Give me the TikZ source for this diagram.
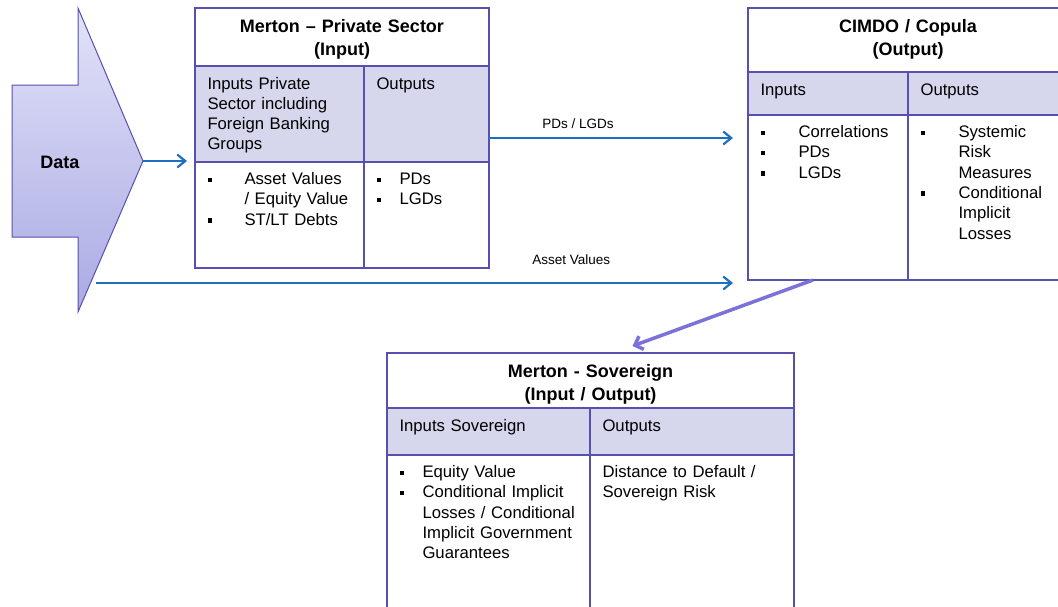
\documentclass[tikz,border=0pt]{standalone}
\usepackage{fontspec}
\setmainfont{Liberation Sans}
\usepackage{tikz}
\usetikzlibrary{positioning,fit,arrows.meta}
\definecolor{boxline}{RGB}{88,80,176}
\definecolor{rowfill}{RGB}{214,214,236}
\definecolor{flowblue}{RGB}{30,112,190}
\definecolor{linkpurple}{RGB}{122,114,214}
\definecolor{datatop}{RGB}{226,226,248}
\definecolor{databottom}{RGB}{170,170,228}
\newcommand{\bodyfont}{\fontsize{16.7}{20.3}\selectfont}
\newcommand{\titlefont}{\fontsize{18}{22.5}\selectfont\bfseries}
\newcommand{\labelfont}{\fontsize{13.5}{16}\selectfont}
\newcommand{\bul}[1]{\makebox[#1][l]{\rule[2.5pt]{4.5pt}{4.5pt}}}
\tikzstyle{header} = [rectangle, draw=boxline, line width=1.5pt, outer sep=0pt, inner xsep=12.5pt, inner ysep=0pt, align=center, font=\titlefont, text height=24.5pt]
\tikzstyle{shaded} = [rectangle, draw=boxline, fill=rowfill, line width=1.5pt, outer sep=0pt, inner xsep=12.5pt, inner ysep=0pt, align=left, font=\bodyfont, text height=23pt]
\tikzstyle{body} = [rectangle, draw=boxline, line width=1.5pt, outer sep=0pt, inner xsep=12.5pt, inner ysep=0pt, align=left, font=\bodyfont, text height=22.5pt]
\tikzstyle{flow} = [draw=flowblue, line width=2.2pt, -{Straight Barb[length=8pt,width=13pt]}]
\tikzstyle{link} = [draw=linkpurple, line width=3.5pt, -{Straight Barb[length=7pt,width=14pt]}]
\tikzstyle{flowlabel} = [font=\labelfont, anchor=base]

\begin{document}
\begin{tikzpicture}[x=1pt, y=-1pt]
        \useasboundingbox (0,0) rectangle (1058,606);
        \clip (0,0) rectangle (1058,606);
        \shade[top color=datatop, bottom color=databottom, draw=boxline, line width=1pt] (12,85) -- (78,85) -- (78,8) -- (143,161) -- (78,312) -- (78,237) -- (12,237) -- cycle;
        \coordinate (data-tip) at (143,161);
        \coordinate (av-start) at (96,283);
        \node[font=\titlefont] (data) at (60,162) {Data};
        \node (mps-head) [header, text width=269pt, minimum width=294pt, text depth=33.5pt, anchor=north west] at (195,8) {Merton – Private Sector\\(Input)};
        \node (mps-in) [shaded, text width=144pt, minimum width=169pt, text depth=73pt, below right=0pt and 0pt of mps-head.south west] {Inputs Private\\Sector including\\Foreign Banking\\Groups};
        \node (mps-out) [shaded, text width=100pt, minimum width=125pt, text depth=73pt, right=0pt of mps-in] {Outputs};
        \node (mps-ib) [body, text width=144pt, minimum width=169pt, text depth=83.5pt, below=0pt of mps-in] {\bul{37pt}Asset Values\\\hspace*{37pt}/ Equity Value\\\bul{37pt}ST/LT Debts};
        \node (mps-ob) [body, text width=100pt, minimum width=125pt, text depth=83.5pt, below=0pt of mps-out] {\bul{23pt}PDs\\\bul{23pt}LGDs};
        \node (mps) [fit=(mps-head)(mps-ib)(mps-ob), inner sep=0pt, outer sep=0pt] {};
        \node (cimdo-head) [header, text width=295pt, minimum width=320pt, text depth=39.5pt, anchor=north west] at (748,8) {CIMDO / Copula\\(Output)};
        \node (cimdo-in) [shaded, text width=135pt, minimum width=160pt, text depth=20pt, below right=0pt and 0pt of cimdo-head.south west] {Inputs};
        \node (cimdo-out) [shaded, text width=135pt, minimum width=160pt, text depth=20pt, right=0pt of cimdo-in] {Outputs};
        \node (cimdo-ib) [body, text width=135pt, minimum width=160pt, text depth=142.5pt, below=0pt of cimdo-in] {\bul{38pt}Correlations\\\bul{38pt}PDs\\\bul{38pt}LGDs};
        \node (cimdo-ob) [body, text width=135pt, minimum width=160pt, text depth=142.5pt, below=0pt of cimdo-out] {\bul{38pt}Systemic\\\hspace*{38pt}Risk\\\hspace*{38pt}Measures\\\bul{38pt}Conditional\\\hspace*{38pt}Implicit\\\hspace*{38pt}Losses};
        \node (cimdo) [fit=(cimdo-head)(cimdo-ib)(cimdo-ob), inner sep=0pt, outer sep=0pt] {};
        \node (sov-head) [header, text width=382pt, minimum width=407pt, text depth=30.5pt, anchor=north west] at (387,353) {Merton - Sovereign\\(Input / Output)};
        \node (sov-in) [shaded, text width=178pt, minimum width=203pt, text depth=24pt, below right=0pt and 0pt of sov-head.south west] {Inputs Sovereign};
        \node (sov-out) [shaded, text width=179pt, minimum width=204pt, text depth=24pt, right=0pt of sov-in] {Outputs};
        \node (sov-ib) [body, text width=178pt, minimum width=203pt, text depth=147.5pt, below=0pt of sov-in] {\bul{23pt}Equity Value\\\bul{23pt}Conditional Implicit\\\hspace*{23pt}Losses / Conditional\\\hspace*{23pt}Implicit Government\\\hspace*{23pt}Guarantees};
        \node (sov-ob) [body, text width=179pt, minimum width=204pt, text depth=147.5pt, below=0pt of sov-out] {Distance to Default /\\Sovereign Risk};
        \draw [flow, shorten >=8pt] (data-tip) -- (data-tip -| mps.west);
        \draw [flow, shorten >=15pt] (mps.east) -- node[flowlabel, pos=0.344, yshift=10pt] {PDs / LGDs} (mps.east -| cimdo.west);
        \draw [flow, shorten >=15pt] (av-start) -- node[flowlabel, pos=0.729, yshift=19pt] {Asset Values} (av-start -| cimdo.west);
        \draw [link] ([xshift=-15pt]cimdo-ib.south) -- ([xshift=42pt, yshift=7pt]sov-head.north);
    \end{tikzpicture}
\end{document}
